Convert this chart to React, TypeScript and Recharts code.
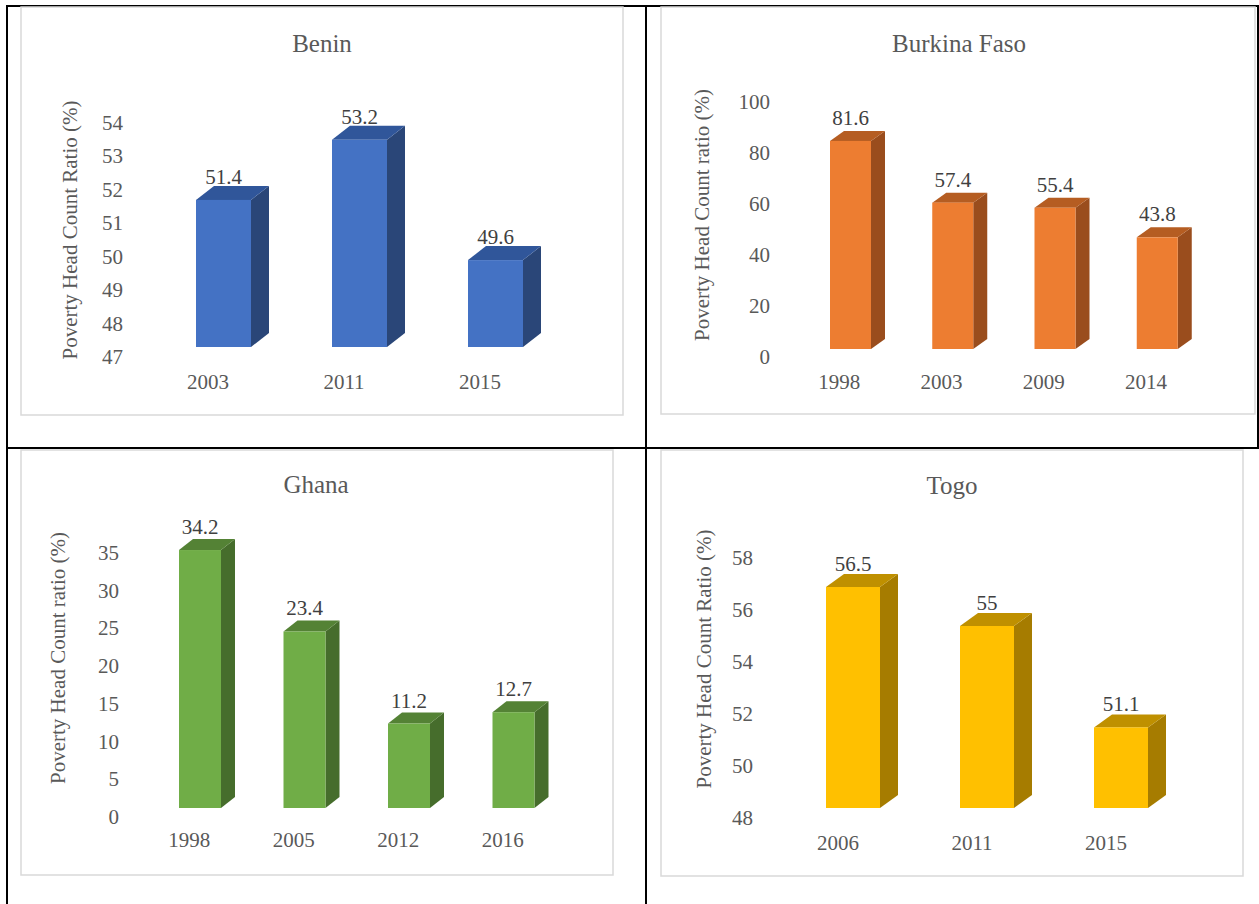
import React from 'react';
import { Bar, BarChart, LabelList, XAxis, YAxis } from 'recharts';

const FONT = "'Liberation Serif', 'Times New Roman', serif";
const GREY_TEXT = '#595959';
const VALUE_TEXT = '#404040';

// Benin
const beninYears = ['2003', '2011', '2015'];
const beninValues = [51.4, 53.2, 49.6];
const beninTicks = [47, 48, 49, 50, 51, 52, 53, 54];

// Burkina Faso
const burkinaYears = ['1998', '2003', '2009', '2014'];
const burkinaValues = [81.6, 57.4, 55.4, 43.8];
const burkinaTicks = [0, 20, 40, 60, 80, 100];

// Ghana
const ghanaYears = ['1998', '2005', '2012', '2016'];
const ghanaValues = [34.2, 23.4, 11.2, 12.7];
const ghanaTicks = [0, 5, 10, 15, 20, 25, 30, 35];

// Togo
const togoYears = ['2006', '2011', '2015'];
const togoValues = [56.5, 55, 51.1];
const togoTicks = [48, 50, 52, 54, 56, 58];

type Box = { x: number; y: number; w: number; h: number };
type Plot = { l: number; r: number; t: number; b: number };
type Colors = { front: string; top: string; side: string };

type PanelProps = {
  title: string;
  yLabel: string;
  years: string[];
  values: number[];
  ticks: number[];
  box: Box;
  plot: Plot;
  tickRight: number;
  xLabelDx: number;
  xLabelDy: number;
  barSize: number;
  lift: number;
  depth: [number, number];
  colors: Colors;
};

const Y_W = 50;
const X_H = 40;

// extruded bar: front face, top face and right side face
const makeShape = (lift: number, dx: number, dy: number, c: Colors) => (p: any) => {
  const { x, y, width, height } = p;
  const top = y - lift;
  const bot = y + height - lift;
  const r = x + width;
  return (
    <g>
      <polygon points={`${r},${top} ${r + dx},${top - dy} ${r + dx},${bot - dy} ${r},${bot}`} fill={c.side} />
      <polygon points={`${x},${top} ${x + dx},${top - dy} ${r + dx},${top - dy} ${r},${top}`} fill={c.top} />
      <rect x={x} y={top} width={width} height={height} fill={c.front} />
    </g>
  );
};

const Panel = (props: PanelProps) => {
  const { years, values, ticks, box, plot, tickRight, xLabelDx, xLabelDy, barSize, lift, depth, colors } = props;
  const data = years.map((year, i) => ({ year, value: values[i] }));
  const margin = {
    top: plot.t - box.y,
    left: plot.l - box.x - Y_W,
    right: box.x + box.w - plot.r,
    bottom: box.y + box.h - plot.b - X_H,
  };
  return (
    <div style={{ position: 'absolute', left: box.x, top: box.y }}>
      <BarChart width={box.w} height={box.h} data={data} margin={margin}>
        <XAxis
          dataKey="year"
          height={X_H}
          axisLine={false}
          tickLine={false}
          tickSize={0}
          tickMargin={0}
          interval={0}
          tick={(t: any) => (
            <text
              x={t.x + xLabelDx}
              y={t.y + xLabelDy}
              textAnchor="middle"
              fontFamily={FONT}
              fontSize={21}
              fill={GREY_TEXT}
            >
              {t.payload.value}
            </text>
          )}
        />
        <YAxis
          width={Y_W}
          domain={[ticks[0], ticks[ticks.length - 1]]}
          ticks={ticks}
          interval={0}
          axisLine={false}
          tickLine={false}
          tickSize={0}
          tickMargin={plot.l - tickRight}
          tick={(t: any) => (
            <text x={t.x} y={t.y + 7} textAnchor="end" fontFamily={FONT} fontSize={21} fill={GREY_TEXT}>
              {t.payload.value}
            </text>
          )}
        />
        <Bar
          dataKey="value"
          barSize={barSize}
          isAnimationActive={false}
          shape={makeShape(lift, depth[0], depth[1], colors)}
        >
          <LabelList
            dataKey="value"
            content={(l: any) => (
              <text
                x={l.x + l.width / 2}
                y={l.y - lift - 16}
                textAnchor="middle"
                fontFamily={FONT}
                fontSize={21}
                fill={VALUE_TEXT}
              >
                {l.value}
              </text>
            )}
          />
        </Bar>
      </BarChart>
    </div>
  );
};

const panels: (PanelProps & { titleAt: [number, number]; yLabelAt: [number, number] })[] = [
  {
    title: 'Benin',
    yLabel: 'Poverty Head Count Ratio (%)',
    years: beninYears,
    values: beninValues,
    ticks: beninTicks,
    box: { x: 21, y: 7, w: 602, h: 408 },
    plot: { l: 155, r: 563, t: 123, b: 357 },
    tickRight: 123,
    xLabelDx: -15,
    xLabelDy: 32,
    barSize: 55,
    lift: 10,
    depth: [18, 14],
    colors: { front: '#4472C4', top: '#30569A', side: '#2A4678' },
    titleAt: [322, 52],
    yLabelAt: [70, 230],
  },
  {
    title: 'Burkina Faso',
    yLabel: 'Poverty Head Count ratio (%)',
    years: burkinaYears,
    values: burkinaValues,
    ticks: burkinaTicks,
    box: { x: 661, y: 7, w: 594, h: 407 },
    plot: { l: 799, r: 1208, t: 102, b: 357 },
    tickRight: 770,
    xLabelDx: -11,
    xLabelDy: 32,
    barSize: 41,
    lift: 8,
    depth: [14, 10],
    colors: { front: '#ED7D31', top: '#B55D22', side: '#9A4D1D' },
    titleAt: [959, 52],
    yLabelAt: [702, 215],
  },
  {
    title: 'Ghana',
    yLabel: 'Poverty Head Count ratio (%)',
    years: ghanaYears,
    values: ghanaValues,
    ticks: ghanaTicks,
    box: { x: 21, y: 450, w: 592, h: 425 },
    plot: { l: 148, r: 566, t: 553, b: 817 },
    tickRight: 119,
    xLabelDx: -11,
    xLabelDy: 30,
    barSize: 42,
    lift: 9,
    depth: [14, 11],
    colors: { front: '#70AD47', top: '#548235', side: '#466D2C' },
    titleAt: [316, 493],
    yLabelAt: [58, 658],
  },
  {
    title: 'Togo',
    yLabel: 'Poverty Head Count Ratio (%)',
    years: togoYears,
    values: togoValues,
    ticks: togoTicks,
    box: { x: 661, y: 450, w: 582, h: 426 },
    plot: { l: 786, r: 1188, t: 558, b: 818 },
    tickRight: 753,
    xLabelDx: -15,
    xLabelDy: 32,
    barSize: 54,
    lift: 10,
    depth: [18, 13],
    colors: { front: '#FFC000', top: '#BF9000', side: '#A67C00' },
    titleAt: [952, 494],
    yLabelAt: [704, 659],
  },
];

export default function App() {
  return (
    <div style={{ position: 'absolute', left: 0, top: 0, width: 1259, height: 904, background: '#fff' }}>
      <svg width={1259} height={904} style={{ position: 'absolute', left: 0, top: 0 }}>
        {/* table grid */}
        <rect x={6} y={5} width={1253} height={2} fill="#000" />
        <rect x={6} y={5} width={2} height={899} fill="#000" />
        <rect x={645} y={5} width={2} height={899} fill="#000" />
        <rect x={6} y={447} width={1253} height={2} fill="#000" />
        <rect x={1257} y={5} width={2} height={443} fill="#000" />
        {panels.map((p) => (
          <g key={p.title}>
            <rect
              x={p.box.x}
              y={p.box.y}
              width={p.box.w}
              height={p.box.h}
              fill="#fff"
              stroke="#D9D9D9"
              strokeWidth={1.5}
            />
            <text x={p.titleAt[0]} y={p.titleAt[1]} textAnchor="middle" fontFamily={FONT} fontSize={25} fill={GREY_TEXT}>
              {p.title}
            </text>
            <text
              transform={`translate(${p.yLabelAt[0]},${p.yLabelAt[1]}) rotate(-90)`}
              textAnchor="middle"
              dominantBaseline="central"
              fontFamily={FONT}
              fontSize={21}
              fill={GREY_TEXT}
            >
              {p.yLabel}
            </text>
          </g>
        ))}
      </svg>
      {panels.map((p) => (
        <Panel key={p.title} {...p} />
      ))}
    </div>
  );
}
